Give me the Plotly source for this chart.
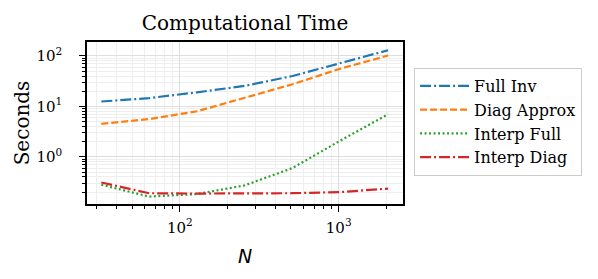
import plotly.graph_objects as go

N = [32, 64, 128, 256, 512, 1024, 2048]
full_inv = [12.5, 14.6, 19.0, 25.5, 40.0, 73.0, 130.0]
diag_approx = [4.5, 5.6, 8.0, 15.0, 27.5, 56.0, 102.0]
interp_full = [0.28, 0.163, 0.183, 0.272, 0.6, 2.1, 7.0]
interp_diag = [0.31, 0.19, 0.187, 0.188, 0.19, 0.2, 0.235]

x_tickvals = [100, 1000]
x_ticktext = ["10<sup>2</sup>", "10<sup>3</sup>"]
y_tickvals = [1, 10, 100]
y_ticktext = ["10<sup>0</sup>", "10<sup>1</sup>", "10<sup>2</sup>"]

series = [
    ("Full Inv", full_inv, "#1f77b4", "11px,3px,2px,3px"),
    ("Diag Approx", diag_approx, "#ff7f0e", "7px,3px"),
    ("Interp Full", interp_full, "#2ca02c", "2px,2.5px"),
    ("Interp Diag", interp_diag, "#d62728", "11px,3px,2px,3px"),
]

fig = go.Figure()
for name, vals, col, dash in series:
    fig.add_trace(go.Scatter(x=N, y=vals, mode="lines", name=name,
                             line=dict(color=col, width=2.2, dash=dash)))

SERIF = "DejaVu Serif"
axis_common = dict(
    type="log", showline=True, linecolor="black", linewidth=1.5, mirror=True,
    ticks="outside", ticklen=6, tickwidth=1, tickcolor="black",
    showgrid=True, gridcolor="#dedede", gridwidth=1,
    tickmode="array",
    tickfont=dict(family=SERIF, size=15, color="black"),
    minor=dict(ticks="outside", ticklen=3, tickcolor="black", dtick="D1",
               showgrid=True, gridcolor="#eeeeee", gridwidth=1),
    zeroline=False, automargin=False,
)

fig.update_xaxes(**axis_common, range=[1.415, 3.405],
                 tickvals=x_tickvals, ticktext=x_ticktext, ticklabelstandoff=3,
                 title=dict(text="<i>N</i>", font=dict(family="DejaVu Sans", size=19, color="black"), standoff=14))
fig.update_yaxes(**axis_common, range=[-0.935, 2.277],
                 tickvals=y_tickvals, ticktext=y_ticktext, ticklabelstandoff=14,
                 title=dict(text="Seconds", font=dict(family=SERIF, size=20, color="black"), standoff=1))

fig.update_layout(
    width=598, height=279,
    margin=dict(l=79, r=203, t=34, b=83),
    paper_bgcolor="white", plot_bgcolor="white",
    title=dict(text="Computational Time", x=0.5, xref="paper", xanchor="center",
               y=0.946, yanchor="middle",
               font=dict(family=SERIF, size=20, color="black")),
    legend=dict(x=1.035, y=0.84, xanchor="left", yanchor="top",
                bgcolor="white", bordercolor="#cccccc", borderwidth=1,
                font=dict(family=SERIF, size=16, color="black"),
                tracegroupgap=0, itemwidth=49),
    showlegend=True,
)

fig.write_html("out.html")
